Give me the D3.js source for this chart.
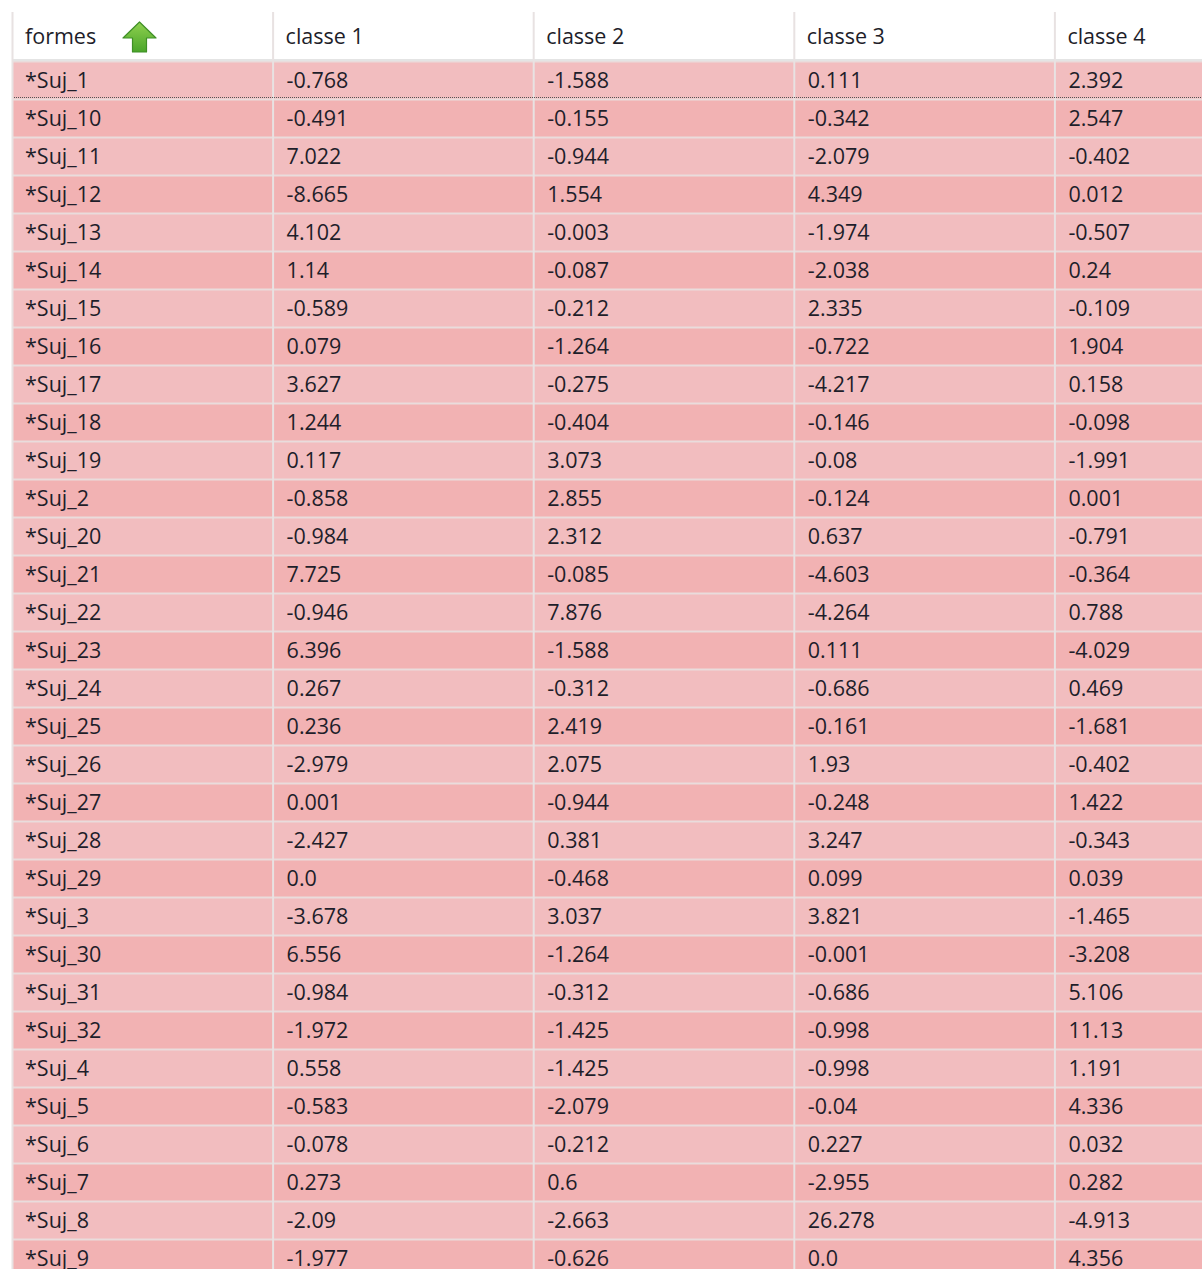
<!DOCTYPE html>
<html lang="fr">
<head>
<meta charset="UTF-8">
<title>formes x classes</title>
<script src="https://cdn.jsdelivr.net/npm/d3@7"></script>
<style>
    html, body { margin: 0; background: #fff; }
    text { font-family: "Segoe UI", "Open Sans", sans-serif; font-size: 21.5px; fill: #1e1e2a; }
</style>
</head>
<body>
<main></main>
<script>
// - - - - - data - - - - -
const columns = ['formes', 'classe 1', 'classe 2', 'classe 3', 'classe 4'];
const formes = ['*Suj_1', '*Suj_10', '*Suj_11', '*Suj_12', '*Suj_13', '*Suj_14', '*Suj_15', '*Suj_16',
    '*Suj_17', '*Suj_18', '*Suj_19', '*Suj_2', '*Suj_20', '*Suj_21', '*Suj_22', '*Suj_23', '*Suj_24',
    '*Suj_25', '*Suj_26', '*Suj_27', '*Suj_28', '*Suj_29', '*Suj_3', '*Suj_30', '*Suj_31', '*Suj_32',
    '*Suj_4', '*Suj_5', '*Suj_6', '*Suj_7', '*Suj_8', '*Suj_9'];
const classe1 = ['-0.768', '-0.491', '7.022', '-8.665', '4.102', '1.14', '-0.589', '0.079', '3.627', '1.244',
    '0.117', '-0.858', '-0.984', '7.725', '-0.946', '6.396', '0.267', '0.236', '-2.979', '0.001', '-2.427',
    '0.0', '-3.678', '6.556', '-0.984', '-1.972', '0.558', '-0.583', '-0.078', '0.273', '-2.09', '-1.977'];
const classe2 = ['-1.588', '-0.155', '-0.944', '1.554', '-0.003', '-0.087', '-0.212', '-1.264', '-0.275', '-0.404',
    '3.073', '2.855', '2.312', '-0.085', '7.876', '-1.588', '-0.312', '2.419', '2.075', '-0.944', '0.381',
    '-0.468', '3.037', '-1.264', '-0.312', '-1.425', '-1.425', '-2.079', '-0.212', '0.6', '-2.663', '-0.626'];
const classe3 = ['0.111', '-0.342', '-2.079', '4.349', '-1.974', '-2.038', '2.335', '-0.722', '-4.217', '-0.146',
    '-0.08', '-0.124', '0.637', '-4.603', '-4.264', '0.111', '-0.686', '-0.161', '1.93', '-0.248', '3.247',
    '0.099', '3.821', '-0.001', '-0.686', '-0.998', '-0.998', '-0.04', '0.227', '-2.955', '26.278', '0.0'];
const classe4 = ['2.392', '2.547', '-0.402', '0.012', '-0.507', '0.24', '-0.109', '1.904', '0.158', '-0.098',
    '-1.991', '0.001', '-0.791', '-0.364', '0.788', '-4.029', '0.469', '-1.681', '-0.402', '1.422', '-0.343',
    '0.039', '-1.465', '-3.208', '5.106', '11.13', '1.191', '4.336', '0.032', '0.282', '-4.913', '4.356'];

// - - - - - layout - - - - -
const width = 1202, height = 1269;
const tableLeft = 12, headerTop = 12, headerBottom = 61, rowH = 38, colW = 260.6;

const svg = d3.select('main').append('svg')
    .attr('width', width).attr('height', height)
    .style('display', 'block');

const x = d3.scaleBand().domain(columns)
    .range([tableLeft, tableLeft + colW * columns.length]);
const y = d3.scaleBand().domain(formes)
    .range([headerBottom, headerBottom + rowH * formes.length]);

const rows = formes.map((f, i) => [f, classe1[i], classe2[i], classe3[i], classe4[i]]);

// row backgrounds
svg.append('g').selectAll('rect')
    .data(formes)
    .join('rect')
    .attr('x', tableLeft)
    .attr('y', d => y(d))
    .attr('width', width - tableLeft)
    .attr('height', rowH)
    .attr('fill', (d, i) => i % 2 ? '#f2b2b3' : '#f2bdbf');

// horizontal grid lines
svg.append('g').selectAll('line')
    .data(formes)
    .join('line')
    .attr('x1', tableLeft).attr('x2', width)
    .attr('y1', d => y(d) + 0.5).attr('y2', d => y(d) + 0.5)
    .attr('stroke', '#e9dcdc').attr('stroke-width', 2);

// header bottom line
svg.append('line')
    .attr('x1', tableLeft).attr('x2', width)
    .attr('y1', headerBottom - 1).attr('y2', headerBottom - 1)
    .attr('stroke', '#e4e4e4').attr('stroke-width', 2);

// vertical separators
svg.append('g').selectAll('line')
    .data(columns)
    .join('line')
    .attr('x1', d => x(d) + 0.5).attr('x2', d => x(d) + 0.5)
    .attr('y1', headerTop).attr('y2', height)
    .attr('stroke', '#e8e2e2').attr('stroke-width', 2);

// focus dotted line under first row
svg.append('line')
    .attr('x1', tableLeft + 2).attr('x2', width)
    .attr('y1', y(formes[1]) - 1.5).attr('y2', y(formes[1]) - 1.5)
    .attr('stroke', '#555').attr('stroke-width', 1)
    .attr('stroke-dasharray', '1 1');

// header labels
svg.append('g').selectAll('text')
    .data(columns)
    .join('text')
    .attr('x', d => x(d) + 13)
    .attr('y', (headerTop + headerBottom) / 2)
    .attr('dy', '0.35em')
    .text(d => d);

// sort arrow
const grad = svg.append('defs').append('linearGradient')
    .attr('id', 'arrowGrad').attr('x1', 0).attr('x2', 0).attr('y1', 0).attr('y2', 1);
grad.append('stop').attr('offset', '0%').attr('stop-color', '#8fd14f');
grad.append('stop').attr('offset', '100%').attr('stop-color', '#4aa52a');
const ax = x('formes') + 111, ay = 22;
svg.append('path')
    .attr('transform', `translate(${ax},${ay})`)
    .attr('d', 'M16.5,0 L33,16 L23.5,16 L23.5,30 L9.5,30 L9.5,16 L0,16 Z')
    .attr('fill', 'url(#arrowGrad)')
    .attr('stroke', '#3f8f26').attr('stroke-width', 1.2)
    .attr('stroke-linejoin', 'round');

// cell texts
svg.append('g').selectAll('g')
    .data(rows)
    .join('g')
    .attr('transform', d => `translate(0,${y(d[0]) + rowH / 2})`)
    .selectAll('text')
    .data(d => d.map((v, j) => ({ v, col: columns[j] })))
    .join('text')
    .attr('x', d => x(d.col) + (d.col === 'formes' ? 13 : 14))
    .attr('dy', '0.35em')
    .text(d => d.v);
</script>
</body>
</html>
